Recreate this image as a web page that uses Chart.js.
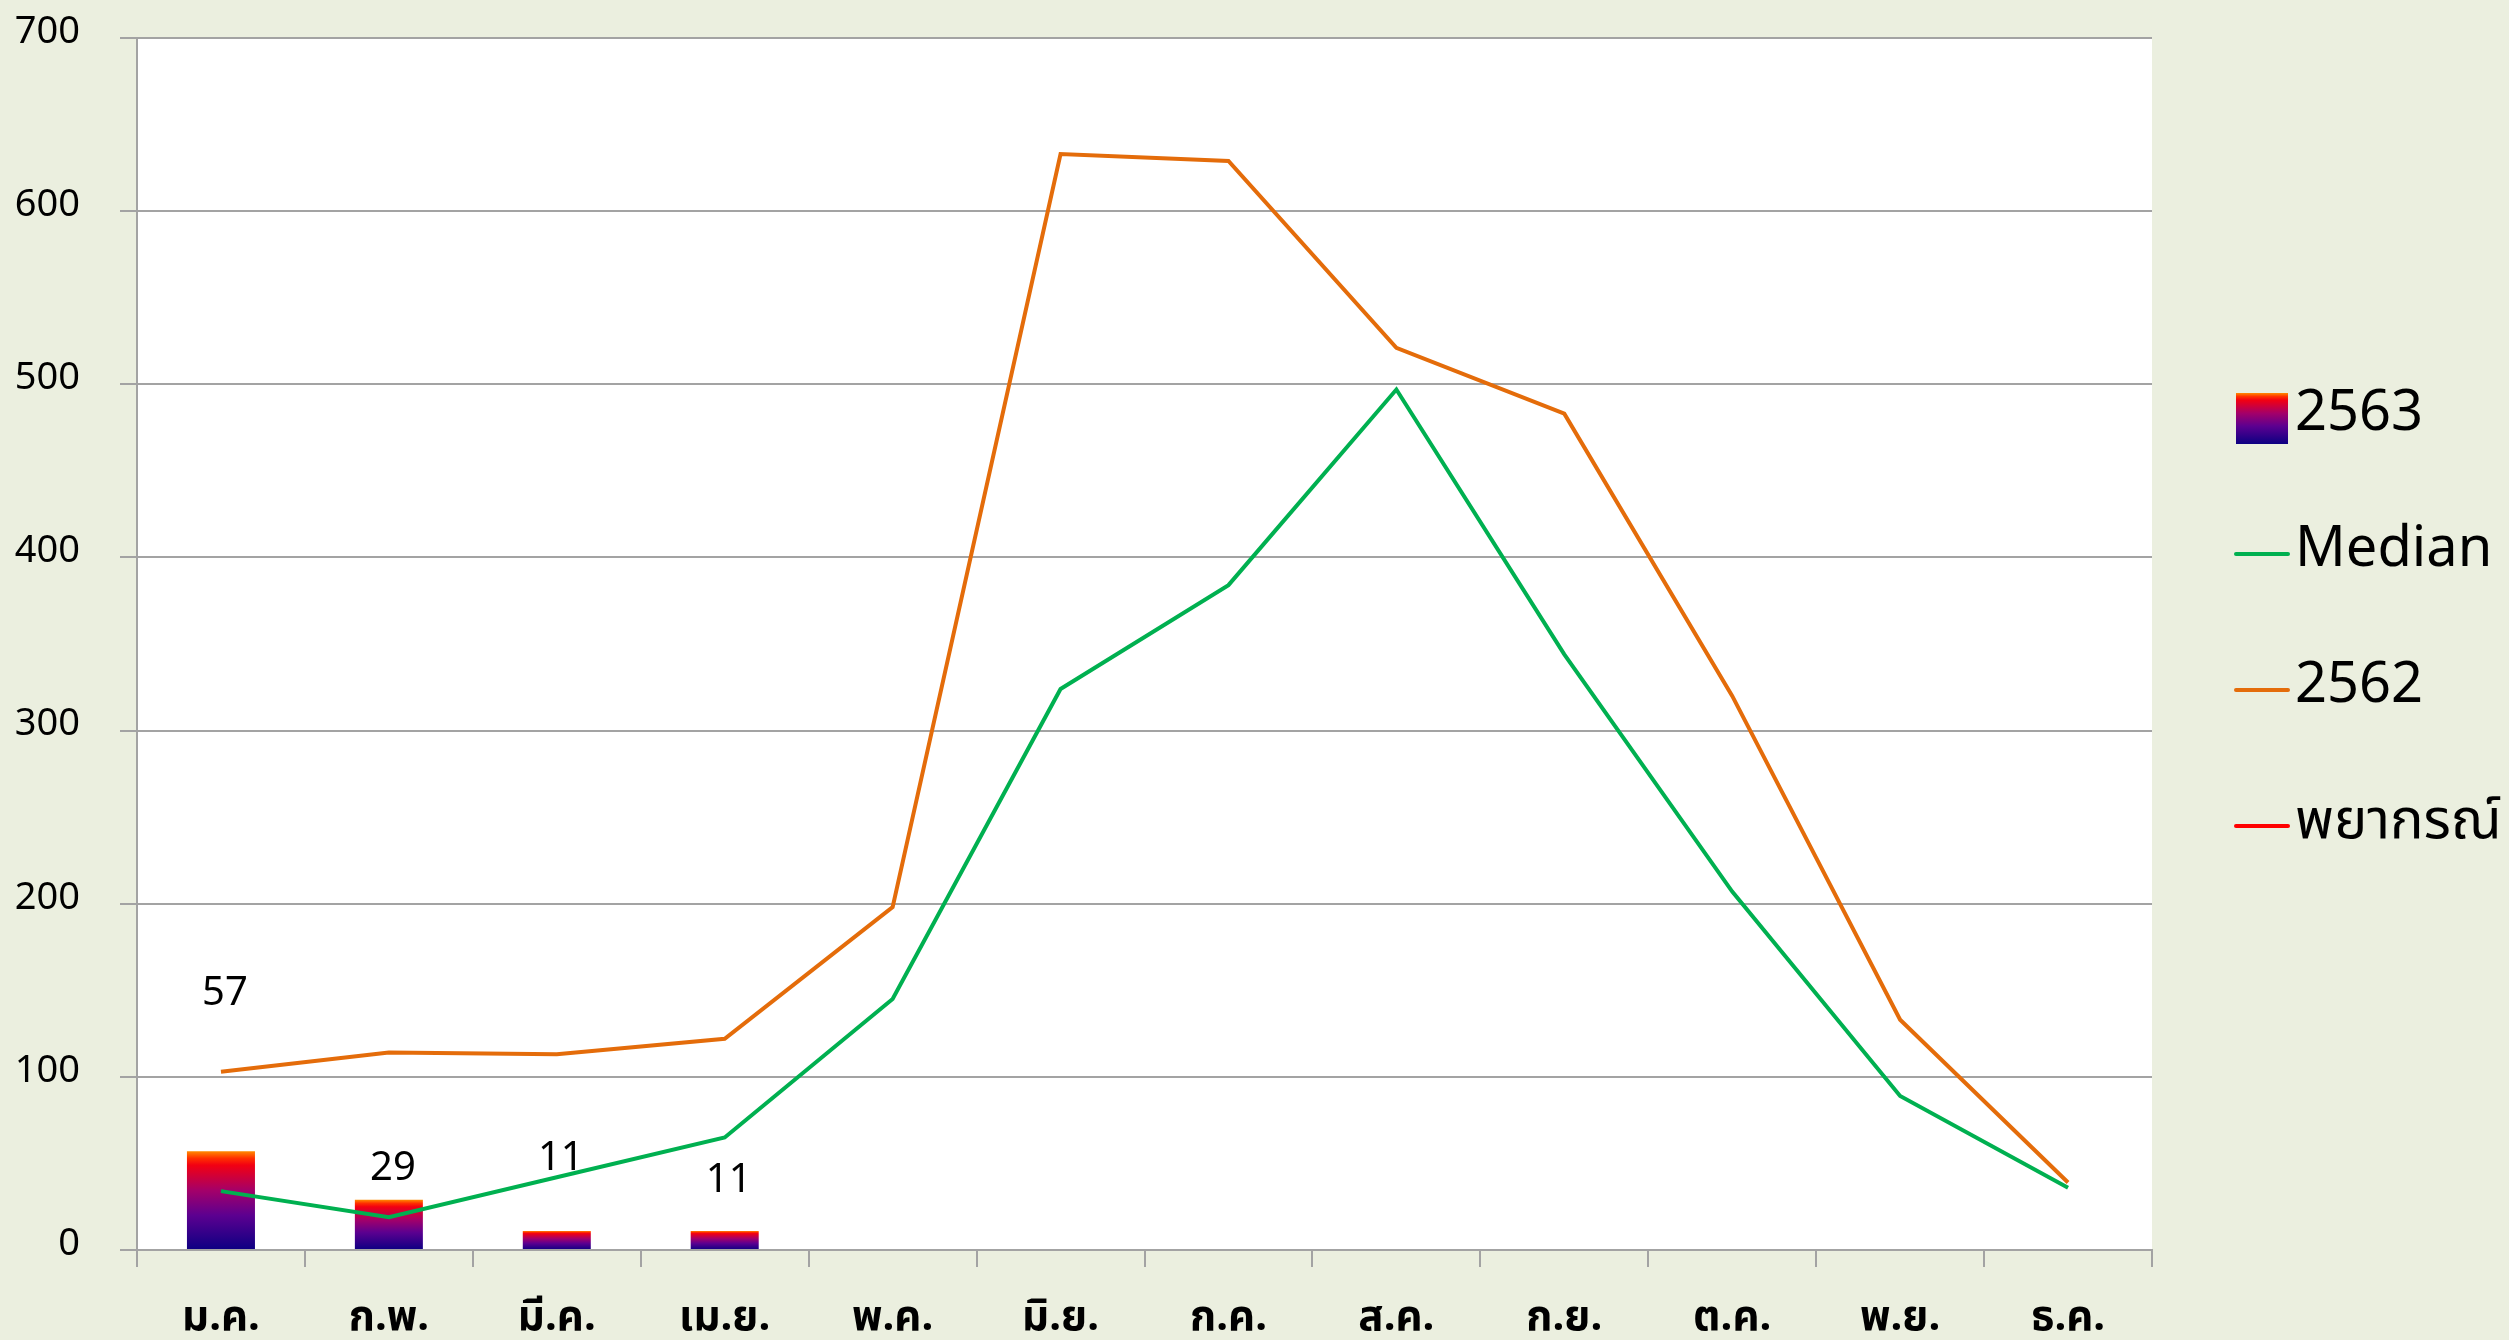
<!DOCTYPE html>
<html>
<head>
<meta charset="utf-8">
<script src="https://cdn.jsdelivr.net/npm/chart.js@4.4.1/dist/chart.umd.min.js"></script>
<style>
  html, body { margin: 0; padding: 0; background: #ebefdf; }
  #wrap { position: relative; width: 2509px; height: 1340px; }
</style>
</head>
<body>
<div id="wrap"><canvas id="chart"></canvas></div>
<script>
const months = ['ม.ค.', 'ก.พ.', 'มี.ค.', 'เม.ย.', 'พ.ค.', 'มิ.ย.', 'ก.ค.', 'ส.ค.', 'ก.ย.', 'ต.ค.', 'พ.ย.', 'ธ.ค.']
const cases2563 = [57, 29, 11, 11, null, null, null, null, null, null, null, null]
const median    = [34, 19, 42, 65, 145, 324, 384, 497, 344, 207, 89, 36]
const cases2562 = [103, 114, 113, 122, 198, 633, 629, 521, 483, 320, 133, 39]
const forecast  = [null, null, null, null, null, null, null, null, null, null, null, null]
// where the value labels of 2563 sit, in axis units
const labelPos  = [148, 47, 53, 40]
const yTicks    = [0, 100, 200, 300, 400, 500, 600, 700]

const FONT = "'Noto Sans', 'Noto Sans Thai', Loma, Garuda, sans-serif"
const GRID = '#a3a3a3'

function barGradient(g, bottom, top) {
  const gr = g.createLinearGradient(0, bottom, 0, top)
  gr.addColorStop(0,    '#0c0082')
  gr.addColorStop(0.35, '#5c0090')
  gr.addColorStop(0.6,  '#a3006a')
  gr.addColorStop(0.86, '#f20012')
  gr.addColorStop(0.93, '#ff3000')
  gr.addColorStop(1,    '#ff8a00')
  return gr
}

const bgPlugin = {
  id: 'bg',
  beforeDraw(chart) {
    const { ctx, chartArea: a } = chart
    ctx.save()
    ctx.fillStyle = '#ebefdf'
    ctx.fillRect(0, 0, chart.width, chart.height)
    ctx.fillStyle = '#ffffff'
    ctx.fillRect(a.left, a.top, a.right - a.left, a.bottom - a.top)
    ctx.restore()
  }
}

const valueLabels = {
  id: 'valueLabels',
  afterDatasetsDraw(chart) {
    const meta = chart.getDatasetMeta(0)
    const y = chart.scales.y
    const ctx = chart.ctx
    ctx.save()
    ctx.font = '40px ' + FONT
    ctx.fillStyle = '#000'
    ctx.textAlign = 'center'
    ctx.textBaseline = 'middle'
    labelPos.forEach((p, i) => {
      const bar = meta.data[i]
      if (!bar || cases2563[i] == null) return
      ctx.fillText(String(cases2563[i]), bar.x + 4, y.getPixelForValue(p))
    })
    ctx.restore()
  }
}

const sideLegend = {
  id: 'sideLegend',
  afterDraw(chart) {
    const ctx = chart.ctx
    const a = chart.chartArea
    const x0 = a.right + 84
    const sw = 52
    ctx.save()
    ctx.font = '56px ' + FONT
    ctx.fillStyle = '#000'
    ctx.textBaseline = 'alphabetic'
    chart.data.datasets.forEach((ds, i) => {
      const base = a.top + 392 + i * 136
      const cy = base - 12
      if (ds.type === 'bar') {
        ctx.fillStyle = barGradient(ctx, cy + 26, cy - 25)
        ctx.fillRect(x0, cy - 25, sw, 51)
      } else {
        ctx.strokeStyle = ds.borderColor
        ctx.lineWidth = 4
        ctx.lineCap = 'round'
        ctx.beginPath()
        ctx.moveTo(x0, cy)
        ctx.lineTo(x0 + sw, cy)
        ctx.stroke()
      }
      ctx.fillStyle = '#000'
      ctx.fillText(ds.label, x0 + sw + 7, base)
    })
    ctx.restore()
  }
}

new Chart(document.getElementById('chart'), {
  data: {
    labels: months,
    datasets: [
      {
        type: 'bar', label: '2563', data: cases2563, order: 4,
        categoryPercentage: 1, barPercentage: 0.405,
        backgroundColor: c => {
          const ch = c.chart
          if (!ch.chartArea || c.raw == null) return '#7a0080'
          const y = ch.scales.y
          return barGradient(ch.ctx, y.getPixelForValue(0), y.getPixelForValue(c.raw))
        }
      },
      { type: 'line', label: 'Median', data: median, order: 2, borderColor: '#00b050', borderWidth: 4, pointRadius: 0, tension: 0 },
      { type: 'line', label: '2562', data: cases2562, order: 1, borderColor: '#e46c0a', borderWidth: 4, pointRadius: 0, tension: 0 },
      { type: 'line', label: 'พยากรณ์', data: forecast, order: 3, borderColor: '#ff0000', borderWidth: 4, pointRadius: 0, tension: 0 }
    ]
  },
  options: {
    responsive: true,
    maintainAspectRatio: false,
    animation: false,
    layout: { padding: { top: 38, right: 357, left: 0, bottom: 0 } },
    plugins: { legend: { display: false }, tooltip: { enabled: false } },
    scales: {
      x: {
        offset: true,
        grid: { offset: true, drawOnChartArea: false, drawTicks: true, tickLength: 17, color: GRID, lineWidth: 2 },
        border: { color: GRID, width: 2 },
        ticks: { font: { family: FONT, size: 42, weight: 'bold' }, color: '#000', padding: 26, maxRotation: 0 },
        afterFit: s => { s.height = 90; s.paddingLeft = 0; s.paddingRight = 0 }
      },
      y: {
        min: 0, max: 700,
        afterBuildTicks: s => { s.ticks = yTicks.map(v => ({ value: v })) },
        grid: { color: GRID, lineWidth: 2, tickLength: 17 },
        border: { color: GRID, width: 2 },
        ticks: { font: { family: FONT, size: 38 }, color: '#000', padding: 40, labelOffset: -6 },
        afterFit: s => { s.width = 137; s.paddingTop = 0; s.paddingBottom = 0 }
      }
    }
  },
  plugins: [bgPlugin, valueLabels, sideLegend]
})
</script>
</body>
</html>
